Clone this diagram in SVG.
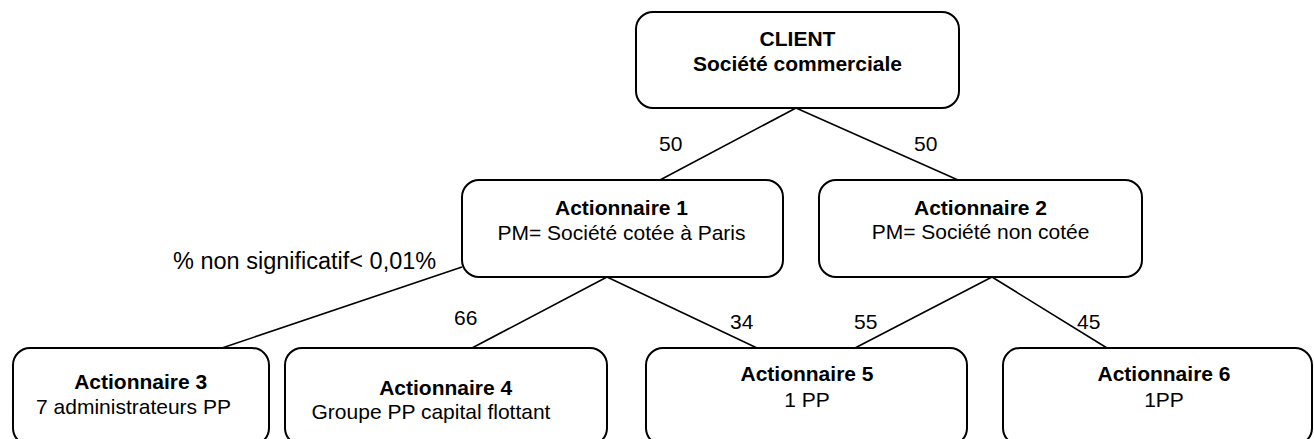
<svg xmlns="http://www.w3.org/2000/svg" width="1314" height="439" viewBox="0 0 1314 439">
<style>
.box{fill:#fff;stroke:#000;stroke-width:2}
.t{font-family:"Liberation Sans",Arial,sans-serif;font-size:21px;fill:#000;text-anchor:middle}
.b{font-weight:bold}
.n{font-family:"Liberation Sans",Arial,sans-serif;font-size:21px;fill:#000}
.c{stroke:#000;stroke-width:1.6;fill:none}
</style>
<rect width="1314" height="439" fill="#fff"/>
<g id="connectors">
<line class="c" x1="796" y1="108" x2="660" y2="180"/>
<line class="c" x1="796" y1="108" x2="958" y2="180"/>
<line class="c" x1="607" y1="277" x2="472" y2="348"/>
<line class="c" x1="607" y1="277" x2="757" y2="348"/>
<line class="c" x1="462" y1="267" x2="222" y2="348"/>
<line class="c" x1="992" y1="277" x2="855" y2="348"/>
<line class="c" x1="992" y1="277" x2="1107" y2="348"/>
<text class="n" x="659" y="151">50</text>
<text class="n" x="914" y="151">50</text>
<text class="n" x="454" y="325">66</text>
<text class="n" x="730" y="329">34</text>
<text class="n" x="854" y="329">55</text>
<text class="n" x="1077" y="329">45</text>
<text class="n" x="173" y="269" style="font-size:23.5px">% non significatif&lt; 0,01%</text>
</g>
<g id="client">
<rect class="box" x="636" y="12" width="323" height="96" rx="17"/>
<text class="t b" x="797.5" y="46">CLIENT</text>
<text class="t b" x="797.5" y="71">Société commerciale</text>
</g>
<g id="actionnaire1">
<rect class="box" x="462" y="180" width="321" height="97" rx="17"/>
<text class="t b" x="621.5" y="215">Actionnaire 1</text>
<text class="t" x="621.5" y="240">PM= Société cotée à Paris</text>
</g>
<g id="actionnaire2">
<rect class="box" x="819" y="180" width="323" height="97" rx="17"/>
<text class="t b" x="980.5" y="215">Actionnaire 2</text>
<text class="t" x="980.5" y="239">PM= Société non cotée</text>
</g>
<g id="actionnaire3">
<rect class="box" x="13" y="348" width="256" height="97" rx="17"/>
<text class="t b" x="140.7" y="389">Actionnaire 3</text>
<text class="t" x="133.5" y="414">7 administrateurs PP</text>
</g>
<g id="actionnaire4">
<rect class="box" x="285" y="348" width="322" height="97" rx="17"/>
<text class="t b" x="445.7" y="395">Actionnaire 4</text>
<text class="t" x="431" y="419">Groupe PP capital flottant</text>
</g>
<g id="actionnaire5">
<rect class="box" x="646" y="348" width="321" height="97" rx="17"/>
<text class="t b" x="807" y="381">Actionnaire 5</text>
<text class="t" x="807" y="407">1 PP</text>
</g>
<g id="actionnaire6">
<rect class="box" x="1003" y="348" width="309" height="97" rx="17"/>
<text class="t b" x="1164" y="381">Actionnaire 6</text>
<text class="t" x="1164" y="407">1PP</text>
</g>
</svg>
